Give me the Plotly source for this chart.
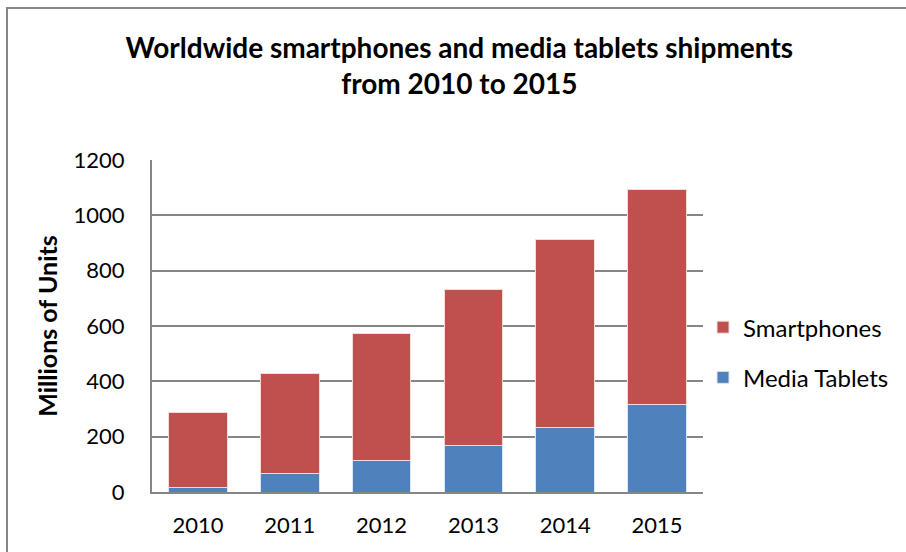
import plotly.graph_objects as go

years = ["2010", "2011", "2012", "2013", "2014", "2015"]
media_tablets = [16, 68, 114, 168, 234, 318]
smartphones = [271, 362, 459, 564, 679, 777]
y_ticks = [0, 200, 400, 600, 800, 1000, 1200]

FONT = "Lato"

fig = go.Figure()
fig.add_trace(go.Bar(
    x=years, y=media_tablets, name="Media Tablets",
    marker=dict(color="#4F81BD", line=dict(color="#DCE6F2", width=1)),
    legendgroup="b", legendrank=2,
))
fig.add_trace(go.Bar(
    x=years, y=smartphones, name="Smartphones",
    marker=dict(color="#C0504D", line=dict(color="#F2DCDB", width=1)),
    legendgroup="a", legendrank=1,
))

fig.update_layout(
    width=906, height=552,
    margin=dict(l=152, r=203, t=160, b=60),
    barmode="stack", bargap=0.36,
    paper_bgcolor="white", plot_bgcolor="white",
    font=dict(family=FONT, size=21, color="black"),
    title=dict(
        text="<b>Worldwide smartphones and media tablets shipments<br>from 2010 to 2015</b>",
        x=0.507, xanchor="center", y=0.895, yanchor="top",
        font=dict(family=FONT, size=28, color="black"),
    ),
    legend=dict(
        traceorder="grouped", tracegroupgap=16,
        x=1.0, xanchor="left", y=0.42, yanchor="middle",
        font=dict(family=FONT, size=24), bgcolor="rgba(0,0,0,0)",
    ),
    xaxis=dict(
        showline=True, linecolor="#868686", linewidth=2,
        ticks="", ticklabelstandoff=13, showgrid=False,
        tickfont=dict(size=22),
    ),
    yaxis=dict(
        range=[0, 1200], tickvals=y_ticks,
        showgrid=True, gridcolor="#868686", gridwidth=2,
        showline=True, linecolor="#868686", linewidth=2,
        ticks="", ticklabelstandoff=21, zeroline=False,
        tickfont=dict(size=22),
        title=dict(text="<b>Millions of Units</b>", font=dict(family=FONT, size=25), standoff=9),
    ),
    shapes=[dict(
        type="rect", xref="paper", yref="paper",
        x0=(7 - 152) / 551, x1=(920 - 152) / 551,
        y0=(492 - 570) / 332, y1=(492 - 8) / 332,
        line=dict(color="#868686", width=2), fillcolor="rgba(0,0,0,0)", layer="below",
    )],
)

fig.write_html("out.html")
